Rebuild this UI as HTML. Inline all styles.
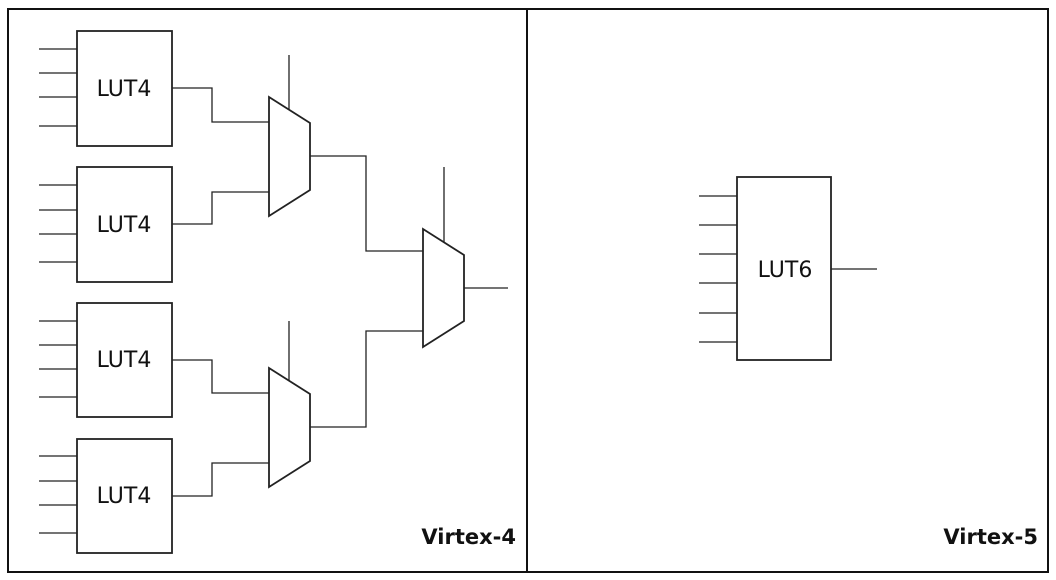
<!DOCTYPE html>
<html><head><style>
html,body{margin:0;padding:0;background:#fff;}
svg{display:block;}
text{font-family:"DejaVu Sans","Liberation Sans",sans-serif;}
</style></head><body>
<svg width="1056" height="580" viewBox="0 0 1056 580" xmlns="http://www.w3.org/2000/svg">
<rect x="8" y="9" width="1040" height="563" fill="none" stroke="#111" stroke-width="2"/>
<line x1="527" y1="9" x2="527" y2="572" stroke="#111" stroke-width="2"/>
<g fill="none" stroke="#222" stroke-width="1.3">
<rect x="77" y="31" width="95" height="115" stroke-width="1.8"/>
<rect x="77" y="167" width="95" height="115" stroke-width="1.8"/>
<rect x="77" y="303" width="95" height="114" stroke-width="1.8"/>
<rect x="77" y="439" width="95" height="114" stroke-width="1.8"/>
<path d="M39 49H77M39 73H77M39 97H77M39 126H77"/>
<path d="M39 185H77M39 210H77M39 234H77M39 262H77"/>
<path d="M39 321H77M39 345H77M39 369H77M39 397H77"/>
<path d="M39 456H77M39 481H77M39 505H77M39 533H77"/>
<polygon points="269,97 310,123 310,190 269,216" stroke-width="1.8"/>
<polygon points="269,368 310,394 310,461 269,487" stroke-width="1.8"/>
<polygon points="423,229 464,255 464,321 423,347" stroke-width="1.8"/>
<path d="M289 55V109M289 321V381M444 167V242"/>
<path d="M172 88H212V122H269M172 224H212V192H269"/>
<path d="M172 360H212V393H269M172 496H212V463H269"/>
<path d="M310 156H366V251H423M310 427H366V331H423M464 288H508"/>
<rect x="737" y="177" width="94" height="183" stroke-width="1.8"/>
<path d="M699 196H737M699 225H737M699 254H737M699 283H737M699 313H737M699 342H737M831 269H877"/>
</g>
<g font-size="22" fill="#111" text-anchor="middle">
<text x="124" y="96">LUT4</text>
<text x="124" y="232">LUT4</text>
<text x="124" y="367">LUT4</text>
<text x="124" y="503">LUT4</text>
<text x="785" y="277">LUT6</text>
</g>
<g font-size="21" font-weight="bold" fill="#111" text-anchor="end">
<text x="516" y="544">Virtex-4</text>
<text x="1038" y="544">Virtex-5</text>
</g>
</svg>
</body></html>
